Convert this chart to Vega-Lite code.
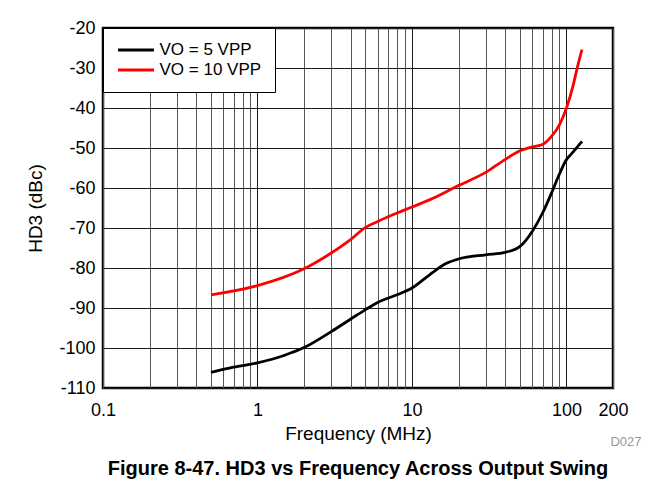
{
  "$schema": "https://vega.github.io/schema/vega-lite/v6.json",
  "width": 510,
  "height": 360,
  "autosize": {"type": "none"},
  "padding": {"left": 103, "top": 28, "right": 51, "bottom": 93},
  "background": "white",
  "title": {
    "text": "Figure 8-47. HD3 vs Frequency Across Output Swing",
    "orient": "bottom",
    "anchor": "middle",
    "fontSize": 20,
    "fontWeight": "bold",
    "color": "black",
    "offset": 10
  },
  "config": {
    "font": "Liberation Sans",
    "view": {"stroke": "black", "strokeWidth": 2.5}
  },
  "resolve": {"axis": {"x": "independent", "y": "independent"}},
  "layer": [
    {
      "data": {
        "values": [
          {"f": 0.5, "hd3": -106.1, "series": "VO = 5 VPP"},
          {"f": 0.7, "hd3": -104.8, "series": "VO = 5 VPP"},
          {"f": 1, "hd3": -103.7, "series": "VO = 5 VPP"},
          {"f": 1.5, "hd3": -101.8, "series": "VO = 5 VPP"},
          {"f": 2, "hd3": -99.9, "series": "VO = 5 VPP"},
          {"f": 3, "hd3": -95.9, "series": "VO = 5 VPP"},
          {"f": 4, "hd3": -92.8, "series": "VO = 5 VPP"},
          {"f": 5, "hd3": -90.4, "series": "VO = 5 VPP"},
          {"f": 6, "hd3": -88.6, "series": "VO = 5 VPP"},
          {"f": 8, "hd3": -86.7, "series": "VO = 5 VPP"},
          {"f": 10, "hd3": -85.0, "series": "VO = 5 VPP"},
          {"f": 13, "hd3": -81.7, "series": "VO = 5 VPP"},
          {"f": 16.6, "hd3": -78.9, "series": "VO = 5 VPP"},
          {"f": 20, "hd3": -77.75, "series": "VO = 5 VPP"},
          {"f": 30, "hd3": -76.7, "series": "VO = 5 VPP"},
          {"f": 40, "hd3": -76.1, "series": "VO = 5 VPP"},
          {"f": 50, "hd3": -74.6, "series": "VO = 5 VPP"},
          {"f": 60, "hd3": -70.85, "series": "VO = 5 VPP"},
          {"f": 70, "hd3": -66.25, "series": "VO = 5 VPP"},
          {"f": 80, "hd3": -61.25, "series": "VO = 5 VPP"},
          {"f": 90, "hd3": -56.5, "series": "VO = 5 VPP"},
          {"f": 100, "hd3": -52.9, "series": "VO = 5 VPP"},
          {"f": 107, "hd3": -51.6, "series": "VO = 5 VPP"},
          {"f": 126, "hd3": -48.35, "series": "VO = 5 VPP"},
          {"f": 0.5, "hd3": -86.7, "series": "VO = 10 VPP"},
          {"f": 1, "hd3": -84.4, "series": "VO = 10 VPP"},
          {"f": 2, "hd3": -80.2, "series": "VO = 10 VPP"},
          {"f": 3, "hd3": -76.25, "series": "VO = 10 VPP"},
          {"f": 4, "hd3": -72.9, "series": "VO = 10 VPP"},
          {"f": 5, "hd3": -69.85, "series": "VO = 10 VPP"},
          {"f": 6, "hd3": -68.35, "series": "VO = 10 VPP"},
          {"f": 8, "hd3": -66.25, "series": "VO = 10 VPP"},
          {"f": 10, "hd3": -64.75, "series": "VO = 10 VPP"},
          {"f": 14.4, "hd3": -62.2, "series": "VO = 10 VPP"},
          {"f": 20, "hd3": -59.4, "series": "VO = 10 VPP"},
          {"f": 30, "hd3": -56.1, "series": "VO = 10 VPP"},
          {"f": 40, "hd3": -52.9, "series": "VO = 10 VPP"},
          {"f": 50, "hd3": -50.7, "series": "VO = 10 VPP"},
          {"f": 60, "hd3": -49.7, "series": "VO = 10 VPP"},
          {"f": 70, "hd3": -49.1, "series": "VO = 10 VPP"},
          {"f": 80, "hd3": -47.1, "series": "VO = 10 VPP"},
          {"f": 90, "hd3": -44.2, "series": "VO = 10 VPP"},
          {"f": 100, "hd3": -40.0, "series": "VO = 10 VPP"},
          {"f": 110, "hd3": -34.6, "series": "VO = 10 VPP"},
          {"f": 118, "hd3": -29.6, "series": "VO = 10 VPP"},
          {"f": 126, "hd3": -25.4, "series": "VO = 10 VPP"}
        ]
      },
      "mark": {"type": "line", "interpolate": "monotone", "strokeWidth": 2.8},
      "encoding": {
        "x": {
          "field": "f",
          "type": "quantitative",
          "scale": {"type": "log", "domain": [0.1, 200], "nice": false},
          "axis": {
            "title": "Frequency (MHz)",
            "titleFontSize": 19,
            "titleFontWeight": "normal",
            "titleColor": "black",
            "titlePadding": 5,
            "values": [0.1, 0.2, 0.3, 0.4, 0.5, 0.6, 0.7, 0.8, 0.9, 1, 2, 3, 4, 5, 6, 7, 8, 9, 10, 20, 30, 40, 50, 60, 70, 80, 90, 100, 200],
            "labelExpr": "indexof([0.1, 1, 10, 100, 200], datum.value) >= 0 ? toString(datum.value) : ''",
            "labelFontSize": 18,
            "labelColor": "black",
            "labelFlush": false,
            "labelOverlap": false,
            "labelPadding": 13,
            "ticks": false,
            "tickSize": 0,
            "domain": false,
            "grid": true,
            "gridColor": {"condition": {"test": "indexof([1, 10, 100], datum.value) >= 0", "value": "#1a1a1a"}, "value": "#555555"},
            "gridWidth": 1,
            "gridOpacity": 1
          }
        },
        "y": {
          "field": "hd3",
          "type": "quantitative",
          "scale": {"domain": [-110, -20], "nice": false},
          "axis": {
            "title": "HD3 (dBc)",
            "titleFontSize": 19,
            "titleFontWeight": "normal",
            "titleColor": "black",
            "titlePadding": 13,
            "values": [-110, -100, -90, -80, -70, -60, -50, -40, -30, -20],
            "labelExpr": "toString(datum.value)",
            "labelFontSize": 18,
            "labelColor": "black",
            "labelFlush": false,
            "labelOverlap": false,
            "labelPadding": 8,
            "ticks": false,
            "tickSize": 0,
            "domain": false,
            "grid": true,
            "gridColor": "#1a1a1a",
            "gridWidth": 1,
            "gridOpacity": 1
          }
        },
        "color": {
          "field": "series",
          "type": "nominal",
          "scale": {"domain": ["VO = 5 VPP", "VO = 10 VPP"], "range": ["black", "#ff0000"]},
          "legend": {
            "title": null,
            "orient": "top-left",
            "offset": 0,
            "strokeColor": "black",
            "fillColor": "white",
            "padding": 13.5,
            "labelFontSize": 17,
            "labelColor": "black",
            "labelOffset": 4,
            "symbolType": "stroke",
            "symbolSize": 1296,
            "symbolStrokeWidth": 3,
            "clipHeight": 17,
            "rowPadding": 2
          }
        }
      }
    },
    {
      "data": {"values": [{"t": "D027"}]},
      "mark": {"type": "text", "color": "#999999", "fontSize": 13, "align": "center", "baseline": "middle", "dx": 13, "dy": 54},
      "encoding": {
        "x": {"datum": 200, "type": "quantitative", "axis": null},
        "y": {"datum": -110, "type": "quantitative", "axis": null},
        "text": {"field": "t"}
      }
    }
  ]
}
